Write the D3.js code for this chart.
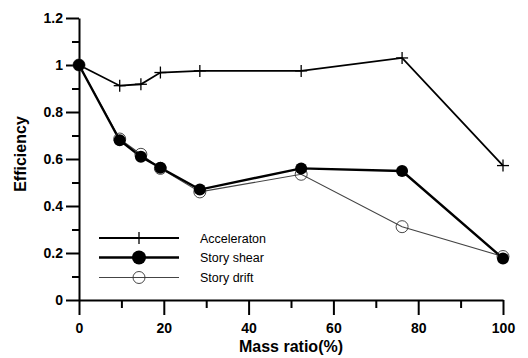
<!DOCTYPE html>
<html>
<head>
<meta charset="utf-8">
<script src="https://d3js.org/d3.v7.min.js"></script>
<style>
body { margin: 0; background: #fff; }
svg { display: block; }
</style>
</head>
<body>
<svg id="chart" width="528" height="358"></svg>
<script>
// values
const massRatio = [0, 9.6, 14.6, 19.2, 28.5, 52.4, 76.2, 100];
const acceleration = [1.0, 0.912, 0.918, 0.968, 0.975, 0.975, 1.03, 0.572];
const storyShear = [1.0, 0.68, 0.61, 0.563, 0.47, 0.56, 0.549, 0.177];
const storyDrift = [1.0, 0.685, 0.62, 0.56, 0.46, 0.535, 0.312, 0.185];
const xTicks = [0, 20, 40, 60, 80, 100];
const yTicks = [0, 0.2, 0.4, 0.6, 0.8, 1, 1.2];
const seriesNames = ["Acceleraton", "Story shear", "Story drift"];

const margin = {top: 18, right: 25, bottom: 58, left: 79};
const width = 528, height = 358;

const x = d3.scaleLinear().domain([0, 100]).range([margin.left, width - margin.right]);
const y = d3.scaleLinear().domain([0, 1.2]).range([height - margin.bottom, margin.top]);

const svg = d3.select("#chart");
const font = "Arial, 'Liberation Sans', sans-serif";

// y axis
const yAxis = svg.append("g").attr("transform", `translate(${x(0)},0)`);
yAxis.call(d3.axisLeft(y).tickValues(yTicks).tickFormat(d3.format("")).tickSize(13).tickSizeOuter(0));
yAxis.append("g").call(d3.axisLeft(y).tickValues(d3.range(0.1, 1.2, 0.2)).tickFormat("").tickSize(7).tickSizeOuter(0))
  .call(g => g.select(".domain").remove());
yAxis.selectAll("line, path").attr("stroke", "#000").attr("stroke-width", 2);
yAxis.selectAll("text").attr("font-family", font).attr("font-size", 14).attr("font-weight", "bold")
  .attr("fill", "#000").attr("x", -16);

// x axis
const xAxis = svg.append("g").attr("transform", `translate(0,${y(0)})`);
xAxis.call(d3.axisBottom(x).tickValues(xTicks).tickSize(15).tickSizeOuter(0));
xAxis.append("g").call(d3.axisBottom(x).tickValues(d3.range(10, 100, 20)).tickFormat("").tickSize(8).tickSizeOuter(0))
  .call(g => g.select(".domain").remove());
xAxis.selectAll("line, path").attr("stroke", "#000").attr("stroke-width", 2);
xAxis.selectAll("text").attr("font-family", font).attr("font-size", 14).attr("font-weight", "bold")
  .attr("fill", "#000").attr("y", 23);

// axis titles
svg.append("text").attr("x", x(50)).attr("y", 352).attr("text-anchor", "middle")
  .attr("font-family", font).attr("font-size", 16).attr("font-weight", "bold").text("Mass ratio(%)");
svg.append("text").attr("transform", `translate(26,154) rotate(-90)`).attr("text-anchor", "middle")
  .attr("font-family", font).attr("font-size", 16).attr("font-weight", "bold").text("Efficiency");

const line = d3.line().x(d => x(d[0])).y(d => y(d[1]));
const zip = vals => massRatio.map((m, i) => [m, vals[i]]);

// story drift (thin grey, open circles)
svg.append("path").datum(zip(storyDrift)).attr("d", line)
  .attr("fill", "none").attr("stroke", "#444").attr("stroke-width", 1.1);
// story shear
svg.append("path").datum(zip(storyShear)).attr("d", line)
  .attr("fill", "none").attr("stroke", "#000").attr("stroke-width", 2.4);
// acceleration
svg.append("path").datum(zip(acceleration)).attr("d", line)
  .attr("fill", "none").attr("stroke", "#000").attr("stroke-width", 1.8);

svg.append("g").selectAll("circle").data(zip(storyDrift)).join("circle")
  .attr("cx", d => x(d[0])).attr("cy", d => y(d[1])).attr("r", 6)
  .attr("fill", "none").attr("stroke", "#333").attr("stroke-width", 0.9);
svg.append("g").selectAll("circle").data(zip(storyShear)).join("circle")
  .attr("cx", d => x(d[0])).attr("cy", d => y(d[1])).attr("r", 6)
  .attr("fill", "#000");

function cross(g, cx, cy) {
  g.append("line").attr("x1", cx - 6).attr("x2", cx + 6).attr("y1", cy).attr("y2", cy);
  g.append("line").attr("x1", cx).attr("x2", cx).attr("y1", cy - 6).attr("y2", cy + 6);
}
const crosses = svg.append("g").attr("stroke", "#000").attr("stroke-width", 1.3);
zip(acceleration).forEach(d => cross(crosses, x(d[0]), y(d[1])));

// legend
const legend = svg.append("g");
const rowY = [238, 257.5, 277.5];
seriesNames.forEach((name, i) => {
  const ly = rowY[i];
  legend.append("line").attr("x1", 99).attr("x2", 179).attr("y1", ly).attr("y2", ly)
    .attr("stroke", i === 2 ? "#444" : "#000").attr("stroke-width", [1.8, 2.4, 1.1][i]);
  if (i === 0) {
    const g = legend.append("g").attr("stroke", "#000").attr("stroke-width", 1.3);
    cross(g, 139, ly);
  } else if (i === 1) {
    legend.append("circle").attr("cx", 139).attr("cy", ly).attr("r", 7).attr("fill", "#000");
  } else {
    legend.append("circle").attr("cx", 139).attr("cy", ly).attr("r", 6)
      .attr("fill", "none").attr("stroke", "#333").attr("stroke-width", 0.9);
  }
  legend.append("text").attr("x", 200).attr("y", ly + 4.5).attr("font-family", font)
    .attr("font-size", 12.5).attr("fill", "#000").text(name);
});
</script>
</body>
</html>
